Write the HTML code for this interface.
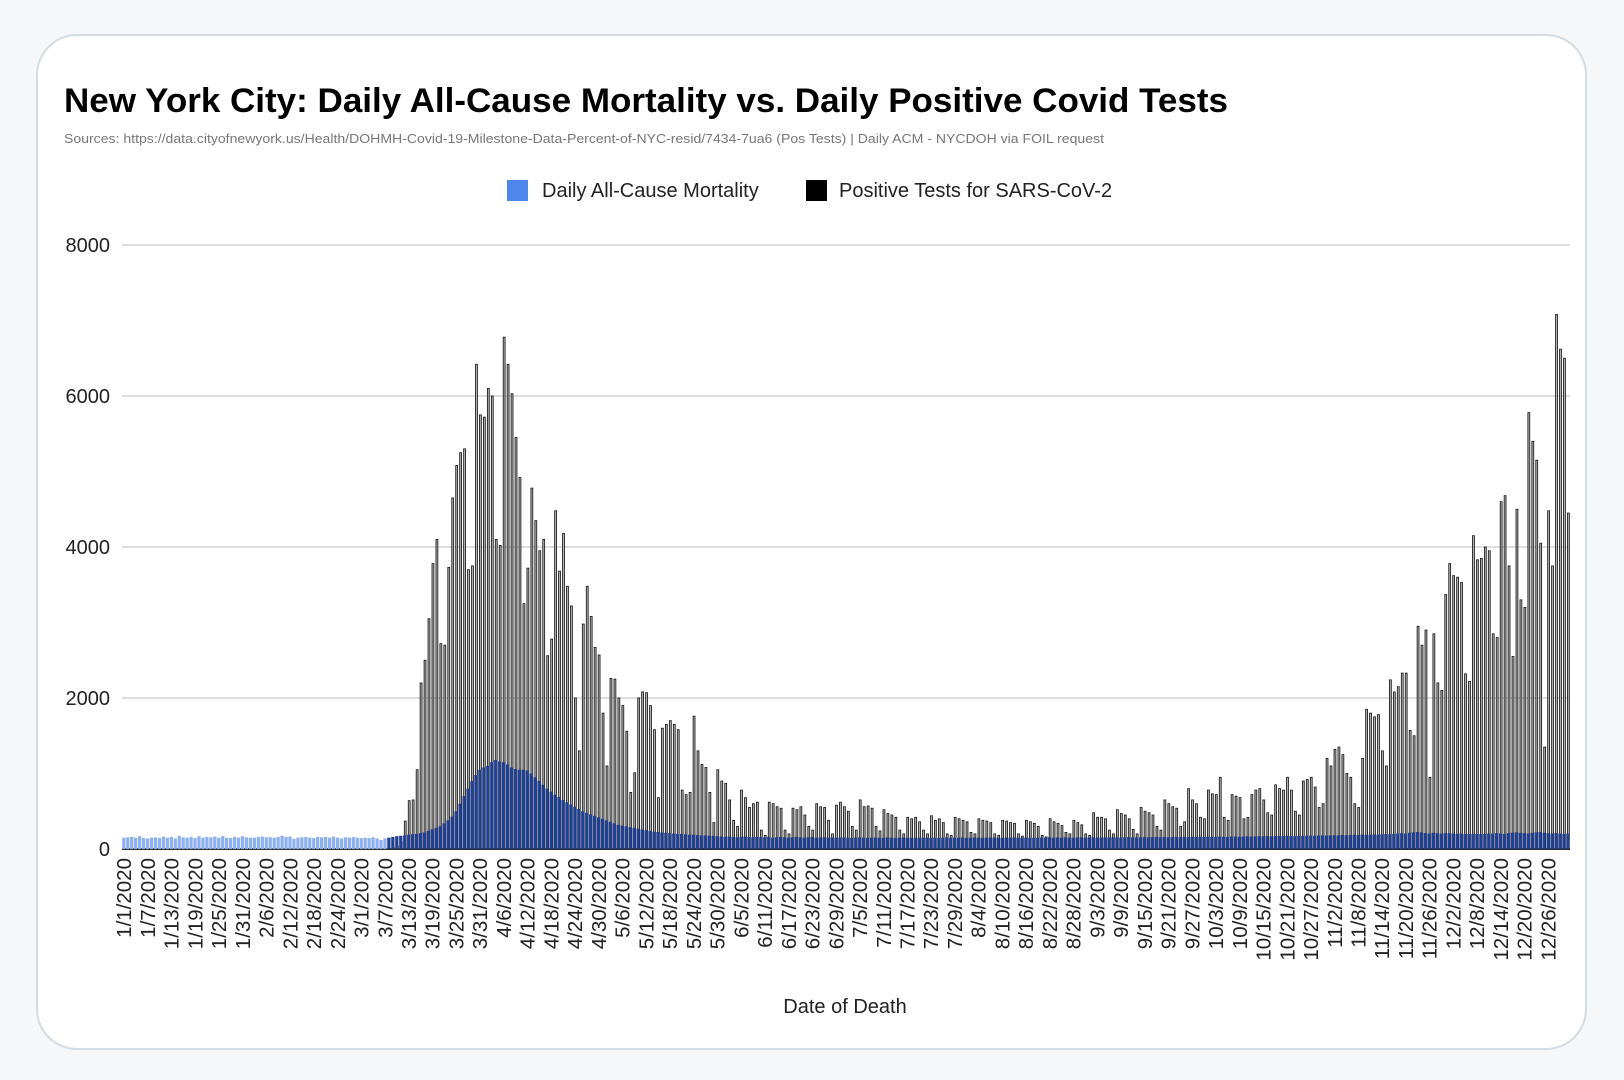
<!DOCTYPE html>
<html><head><meta charset="utf-8"><style>
html,body{margin:0;padding:0;background:#f6f7f8;width:1624px;height:1080px;overflow:hidden}
svg{display:block;font-family:"Liberation Sans",Arial,sans-serif}
</style></head><body>
<svg id="chart" width="1624" height="1080" viewBox="0 0 1624 1080">
<rect x="37" y="35" width="1549" height="1014" rx="40" ry="40" fill="#fff" stroke="#d3dbe3" stroke-width="2"/>
<text x="64" y="112" font-size="34" font-weight="bold" fill="#000" textLength="1164" lengthAdjust="spacingAndGlyphs">New York City: Daily All-Cause Mortality vs. Daily Positive Covid Tests</text>
<text x="64" y="143" font-size="13" fill="#777" textLength="1040" lengthAdjust="spacingAndGlyphs">Sources: https://data.cityofnewyork.us/Health/DOHMH-Covid-19-Milestone-Data-Percent-of-NYC-resid/7434-7ua6 (Pos Tests)  | Daily ACM - NYCDOH via FOIL request</text>
<g>
<g>
<rect x="507" y="180" width="21" height="21" fill="#4f86ec"/>
<text x="542" y="197" font-size="20" fill="#222">Daily All-Cause Mortality</text>
</g>
<g>
<rect x="806" y="180" width="21" height="21" fill="#000"/>
<text x="839" y="197" font-size="20" fill="#222">Positive Tests for SARS-CoV-2</text>
</g>
</g>
<g id="grid"></g>
<g id="bars"></g>
<g id="xlabels"></g>
<text x="845" y="1013" font-size="20" fill="#222" text-anchor="middle">Date of Death</text>
</svg>
<script>
const yTicks = [0, 2000, 4000, 6000, 8000];
const tests = [
0,0,0,0,0,0,0,0,0,0, 0,0,0,0,0,0,0,0,0,0, 0,0,0,0,0,0,0,0,0,0,
0,0,0,0,0,0,0,0,0,0, 0,0,0,0,0,0,0,0,0,0, 0,0,0,0,0,0,0,0,0,0, 0,0,
0,0,0,0,0,10,20,40,100,370,
640,650,1050,2200,2500,3050,3780,4100,2720,2700,
3730,4650,5080,5250,5300,3700,3750,6420,5750,5720,
6100,6000,4100,4020,6780,6420,6030,5450,4920,3250,
3720,4780,4350,3950,4100,2560,2780,4480,3680,4180,
3480,3220,2000,1300,2980,3480,3080,2670,2570,1800,
1100,2260,2250,2000,1900,1560,750,1010,2000,2080,
2070,1900,1580,680,1600,1650,1700,1650,1580,780,
720,750,1760,1300,1120,1080,750,350,
1050,900,870,650,380,300,780,680,550,600,620,250,180,620,600,560,540,250,200,540,520,560,450,300,250,600,560,550,380,200,
580,620,560,500,300,250,650,560,570,540,300,240,520,470,450,420,250,200,420,400,420,360,250,200,440,380,400,350,200,180,
420,400,380,360,220,200,400,380,370,350,200,180,380,370,350,340,200,170,380,360,340,300,180,160,400,360,340,310,220,200,
380,350,320,200,180,480,420,420,400,250,200,520,470,450,400,260,200,550,500,480,450,300,250,650,600,560,540,300,360,800,
650,600,420,400,780,730,720,950,420,380,720,700,680,400,420,720,780,800,650,480,
450,850,800,780,950,780,500,450,900,920,950,820,550,600,1200,1100,1320,1350,1250,1000,
950,600,550,
1200,1850,1800,1750,1780,1300,1100,2240,2080,2150,2330,2330,1570,1500,
2950,2700,2900,950,2850,2200,2100,3370,3780,3620,3600,3530,2320,2220,
4150,3830,3850,4000,3950,2850,2800,4600,4680,3750,2550,4500,3300,3200,
5780,5400,5150,4050,1350,4480,3750,7080,6620,6500,4450
];
const mortality = [
150,155,160,150,170,145,140,150,155,145, 165,150,160,140,175,155,150,160,145,170,
150,160,155,165,150,170,150,145,160,150, 170,155,150,150,160,165,155,155,150,160,
175,160,165,135,150,155,160,150,145,160, 155,160,150,165,150,140,155,150,160,150,
145,150,145,155,140,120,
140,150,160,170,175,180,
190,195,200,210,220,240,260,280,300,340,380,430,500,600,700,800,900,980,1050,1080,1100,1150,1180,1160,
1150,1120,1080,1060,1050,1050,1040,1000,950,900,
850,800,760,720,690,650,620,590,560,530,500,480,460,440,420,400,380,360,340,320,310,300,290,280,270,
260,250,240,230,225,220,215,210,205,200,200,195,190,190,185,180,180,175,175,170,
165,160,165,160,155,160,165,160,155,160, 158,155,160,150,155,160,155,150,155,160,
155,150,155,160,150,152,155,150,155,150, 150,155,150,148,152,155,150,148,150,152,
150,148,152,150,147,150,152,150,148,150, 148,150,152,148,150,147,150,152,148,150,
150,152,148,150,153,150,148,150,152,150, 150,148,152,150,153,150,150,152,150,148,
150,152,150,155,150,152,150,155,152,150, 152,155,150,152,155,153,150,155,152,155,
155,152,155,158,155,153,155,158,155,157, 158,155,160,157,158,160,158,160,158,162,
160,162,160,163,162,160,165,162,160,165,
165,163,165,168,165,167,170,168,170,168, 170,172,170,175,172,170,175,173,175,178,
175,178,180,178,180,182,180,185,182,185, 188,185,190,188,190,192,190,195,198,195,
200,205,210,205,215,220,225,220,210,205, 215,210,205,208,210,205,200,205,200,198,
200,200,198,200,205,205,210,205,200,210, 215,220,215,210,205,215,220,225,215,210,
205,210,205,200,205,200
];
const startDate = new Date(2020, 0, 1);

const NS = 'http://www.w3.org/2000/svg';
const X0 = 122, X1 = 1570, Y0 = 849, YMAX = 8000, YTOP = 245;
const n = tests.length;
const band = (X1 - X0) / n;
const xs = i => X0 + i * band;
const ys = v => Y0 - (v / YMAX) * (Y0 - YTOP);

const grid = document.getElementById('grid');
yTicks.forEach(t => {
  const l = document.createElementNS(NS, 'line');
  l.setAttribute('x1', X0); l.setAttribute('x2', X1);
  l.setAttribute('y1', ys(t)); l.setAttribute('y2', ys(t));
  l.setAttribute('stroke', t === 0 ? '#333' : '#d4d4d4');
  l.setAttribute('stroke-width', t === 0 ? 2 : 1.5);
  
  
  grid.appendChild(l);
  const tx = document.createElementNS(NS, 'text');
  tx.setAttribute('x', 110); tx.setAttribute('y', ys(t) + 7);
  tx.setAttribute('text-anchor', 'end'); tx.setAttribute('font-size', '20');
  tx.setAttribute('fill', '#222');
  tx.textContent = t;
  
  
  grid.appendChild(tx);
});

const bars = document.getElementById('bars');
for (let i = 0; i < n; i++) {
  const x = xs(i);
  if (tests[i] > 0) {
    const r = document.createElementNS(NS, 'rect');
    r.setAttribute('x', x + 1.4); r.setAttribute('width', 1.9);
    r.setAttribute('y', ys(tests[i])); r.setAttribute('height', Y0 - ys(tests[i]));
    r.setAttribute('fill', '#b0b0b0'); r.setAttribute('stroke', '#111'); r.setAttribute('stroke-width', 0.8);
    
    
    bars.appendChild(r);
  }
  const mv = mortality[i] || 0;
  const m = document.createElementNS(NS, 'rect');
  m.setAttribute('x', x + 0.2); m.setAttribute('width', band - 0.7);
  m.setAttribute('y', ys(mv)); m.setAttribute('height', Y0 - ys(mv));
  m.setAttribute('fill', tests[i] > 0 ? '#23408f' : '#8eb0ee');
  
  
  bars.appendChild(m);
}

const xl = document.getElementById('xlabels');
for (let i = 0; i < n; i += 6) {
  const d = new Date(startDate.getTime()); d.setDate(d.getDate() + i);
  const label = (d.getMonth() + 1) + '/' + d.getDate() + '/' + d.getFullYear();
  const t = document.createElementNS(NS, 'text');
  const cx = xs(i) + band / 2, cy = 858;
  t.setAttribute('x', cx); t.setAttribute('y', cy);
  t.setAttribute('transform', 'rotate(-90 ' + cx + ' ' + cy + ')');
  t.setAttribute('text-anchor', 'end'); t.setAttribute('dy', '0.35em');
  t.setAttribute('font-size', '20.5'); t.setAttribute('fill', '#222');
  t.textContent = label;
  
  
  xl.appendChild(t);
}
</script>
</body></html>
